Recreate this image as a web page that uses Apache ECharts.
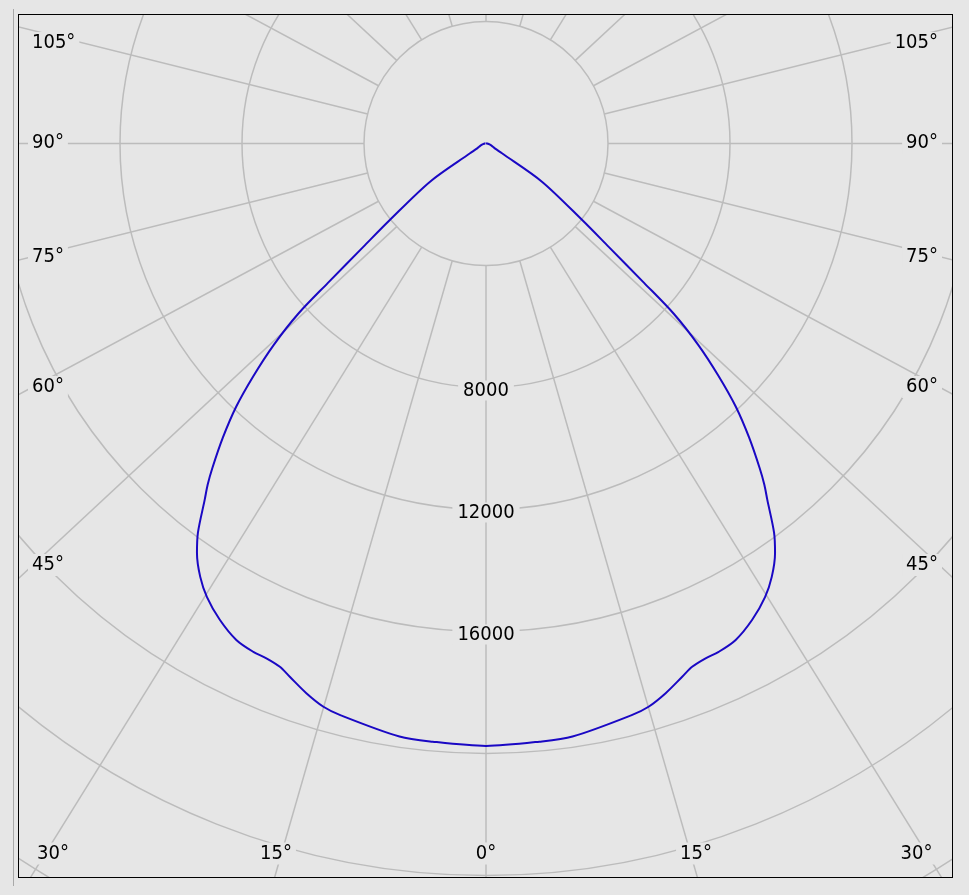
<!DOCTYPE html>
<html><head><meta charset="utf-8">
<script src="https://cdn.jsdelivr.net/npm/echarts@6/dist/echarts.min.js"></script>
<style>
html,body{margin:0;padding:0;background:#e6e6e6;width:969px;height:895px;overflow:hidden;}
#side{position:absolute;left:13px;top:9px;width:1px;height:877px;background:#a9a9a9;}
#chart{position:absolute;left:19px;top:15px;width:933px;height:862px;}
#frame{position:absolute;left:18px;top:14px;width:935px;height:864px;border:1px solid #000;box-sizing:border-box;pointer-events:none;}
</style></head><body>
<div id="side"></div><div id="chart"></div><div id="frame"></div>
<script>
// ---- data (luminous intensity, cd, vs. gamma angle, deg) ----
const gammaDeg  = [0, 5.1, 8.3, 14.3, 16.1, 18.1, 20.2, 21.5, 23.1, 24.6, 26.7, 29.2, 31.6, 33.4, 35.2, 36.5, 38.3, 39.2, 40.1, 41.8, 43.5, 45.0, 46.5, 47.8, 48.6, 49.9, 51.5, 55.7, 58.5, 61, 66, 75, 90, 120, 180];
const intensity = [19750, 19690, 19650, 19340, 19220, 18960, 18630, 18440, 18350, 18330, 18220, 17890, 17460, 17020, 16440, 15880, 14880, 14440, 13940, 12950, 11900, 10790, 9600, 8310, 6920, 5260, 4030, 2220, 615, 330, 230, 120, 40, 20, 10];
// ---- axes ----
const radiusTicks = [8000, 12000, 16000];          // labelled rings
const spokeNominal = [0,15,30,45,60,75,90,105,120,135,150,165,180,195,210,225,240,255,270,285,300,315,330,345];
const sideLabels  = ['105°','90°','75°','60°','45°'];
const bottomLabels = ['30°','15°','0°','15°','30°'];

// ---- layout ----
const BG = '#e6e6e6', GRID = '#bcbcbc', CURVE = '#1a08c4';
const FONT = "'DejaVu Sans Condensed','Liberation Sans',sans-serif";
const CX = 467, CY = 128.5, R = 976, RMAX = 32000;
const K = 1.075; // horizontal stretch of the spoke directions in the original drawing
const sideY = [28, 128, 241.5, 372, 550];
const bottomX = [34, 257, 467, 677, 897.5];
const bottomY = 838.5;

function displayAngle(t){
  const r = t*Math.PI/180;
  let a = Math.atan2(K*Math.sin(r), Math.cos(r))*180/Math.PI;
  if (a < 0) a += 360;
  return a;
}

const spokeSeries = spokeNominal.map(t => ({
  type:'line', coordinateSystem:'polar', symbol:'none', silent:true, animation:false, z:1,
  lineStyle:{color:GRID, width:1.5},
  data:[[4000, displayAngle(t)], [RMAX, displayAngle(t)]]
}));

const curveData = [];
for (let i = gammaDeg.length-1; i >= 0; i--) curveData.push([intensity[i], 360 - gammaDeg[i]]);
for (let i = 0; i < gammaDeg.length; i++) curveData.push([intensity[i], gammaDeg[i]]);

const txt = (text, x, y, align, pad) => ({
  type:'text', x, y, z:10, silent:true,
  style:{text, fill:'#000', fontSize:20, fontFamily:FONT, align, verticalAlign:'middle',
         backgroundColor:BG, padding:pad || [1,4]}
});
const graphics = [];
sideLabels.forEach((s,i) => { graphics.push(txt(s, 9, sideY[i], 'left')); graphics.push(txt(s, 923, sideY[i], 'right')); });
bottomLabels.forEach((s,i) => graphics.push(txt(s, bottomX[i], bottomY, 'center')));

const chart = echarts.init(document.getElementById('chart'), null, {renderer:'canvas'});
const curveIndex = spokeSeries.length;
chart.setOption({
  backgroundColor: BG,
  animation:false,
  polar:{center:[CX, CY], radius:[0, R]},
  angleAxis:{type:'value', min:0, max:360, startAngle:270, clockwise:true,
    axisLine:{show:false}, axisTick:{show:false}, axisLabel:{show:false}, splitLine:{show:false}},
  radiusAxis:{type:'value', min:0, max:RMAX, interval:4000,
    axisLine:{show:false}, axisTick:{show:false}, axisLabel:{show:false},
    splitLine:{show:true, lineStyle:{color:GRID, width:1.5}}
  },
  series: spokeSeries.concat([{
    type:'line', coordinateSystem:'polar', symbol:'none', silent:true, z:5, smooth:0.3,
    lineStyle:{color:CURVE, width:2}, data:curveData
  }])
});
// radius labels placed on the 0° spoke through the polar scale
radiusTicks.forEach(v => {
  const p = chart.convertToPixel({seriesIndex: curveIndex}, [v, 0]);
  graphics.push(txt(String(v), p[0], p[1] + 3, 'center', [0,5]));
});
chart.setOption({graphic:{elements:graphics}});
</script>
</body></html>
